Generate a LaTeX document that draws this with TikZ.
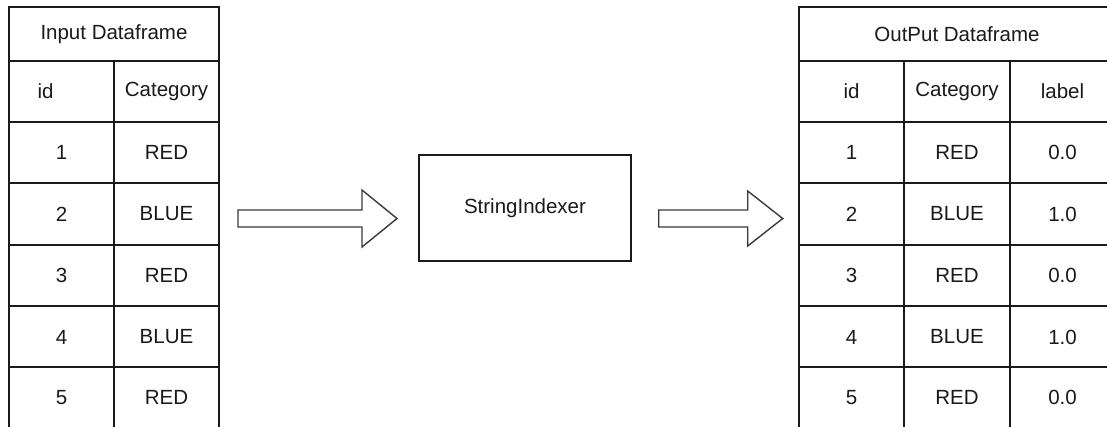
\documentclass[tikz,border=0pt]{standalone}
\usepackage{fontspec}
\setmainfont{Liberation Sans}
\usetikzlibrary{calc}
\definecolor{ink}{HTML}{1A1A1A}
\definecolor{arrowline}{HTML}{3A3A3A}
\tikzset{
  cell/.style={draw=ink, line width=1.4pt, inner sep=0pt, outer sep=0pt,
    minimum height=61pt, minimum width=105pt, text=ink,
    font=\fontsize{20.5}{24}\selectfont},
  headcell/.style={cell, minimum height=54pt},
  procbox/.style={draw=ink, line width=1.4pt, minimum width=212pt,
    minimum height=106pt, inner sep=0pt, text=ink,
    font=\fontsize{20.5}{24}\selectfont},
  blockarrow/.style={draw=arrowline, line width=1.4pt, fill=white, line join=miter}
}
\begin{document}
\begin{tikzpicture}[x=1pt, y=-1pt]
  \useasboundingbox[fill=white] (0,0) rectangle (1107,426);

  % ---- input table ----
  \node[headcell, minimum width=210pt] (inHead) at (114,34) {Input Dataframe};
  \node[cell] (inId)  at (61.5,91.5)  {id\hspace*{32pt}};
  \node[cell] (inCat) at (166.5,91.5) {Category};
  \foreach \r/\id/\cat [count=\i] in {152.5/1/RED, 214/2/BLUE, 275.5/3/RED, 337/4/BLUE, 397.5/5/RED}{
    \node[cell] (in\i a) at (61.5,\r)  {\id};
    \node[cell] (in\i b) at (166.5,\r) {\cat};
  }

  % ---- transformer ----
  \node[procbox] (indexer) at (525,208) {StringIndexer};

  % ---- output table ----
  \node[headcell, minimum width=316pt] (outHead) at (957,34) {OutPut Dataframe};
  \node[cell] (outId)  at (851.5,91.5)  {id};
  \node[cell] (outCat) at (957,91.5)    {Category};
  \node[cell] (outLab) at (1062.5,91.5) {label};
  \foreach \r/\id/\cat/\lab [count=\i] in {152.5/1/RED/0.0, 214/2/BLUE/1.0, 275.5/3/RED/0.0, 337/4/BLUE/1.0, 397.5/5/RED/0.0}{
    \node[cell] (out\i a) at (851.5,\r)  {\id};
    \node[cell] (out\i b) at (957,\r)    {\cat};
    \node[cell] (out\i c) at (1062.5,\r) {\lab};
  }

  % ---- block arrows ----
  \coordinate (arrA) at ($(in2b.east)+(19,4.5)$);
  \coordinate (arrB) at ($(indexer.east)+(27,10.5)$);
  \draw[blockarrow] (arrA) ++(0,-8.5) -- ++(124,0) -- ++(0,-20) -- ++(35,28.5)
    -- ++(-35,28.5) -- ++(0,-20) -- ++(-124,0) -- cycle;
  \draw[blockarrow] (arrB) ++(0,-8.5) -- ++(89,0) -- ++(0,-19) -- ++(35,27.5)
    -- ++(-35,27.5) -- ++(0,-19) -- ++(-89,0) -- cycle;
\end{tikzpicture}
\end{document}
